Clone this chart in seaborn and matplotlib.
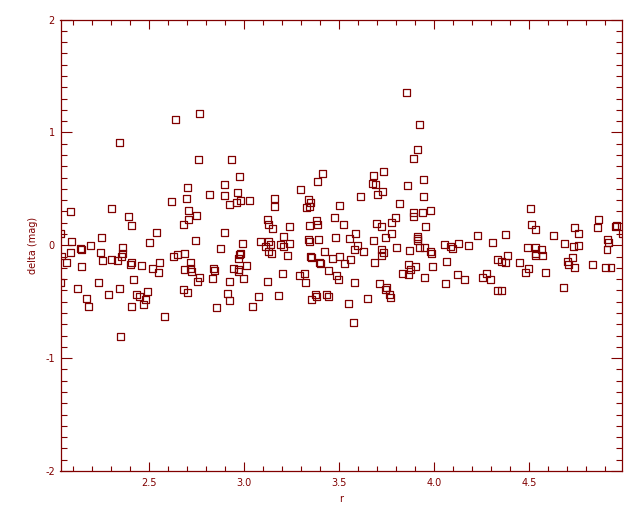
import matplotlib
matplotlib.use("Agg")
import matplotlib.pyplot as plt
import numpy as np
import pandas as pd
import seaborn as sns
from matplotlib.ticker import MultipleLocator, FormatStrFormatter

# ---- data (r, delta in mag) ----
r_top = [2.637, 2.764, 2.342, 2.759, 2.933, 3.925, 3.914, 3.893, 3.413, 3.682, 3.735, 3.856]
d_top = [1.115, 1.168, 0.912, 0.761, 0.761, 1.071, 0.850, 0.770, 0.637, 0.619, 0.655, 1.354]

r_a = [2.083, 2.299, 2.616, 2.389, 2.405, 2.032, 2.247, 2.537, 2.088, 2.500, 2.189, 2.136,
       2.141, 2.358, 2.083, 2.241, 2.358, 2.352, 2.039, 2.062, 2.252, 2.299, 2.331, 2.405,
       2.400, 2.458, 2.553, 2.141, 2.516, 2.547, 2.032, 2.231, 2.416, 2.120, 2.342, 2.284,
       2.431, 2.447, 2.489, 2.479, 2.168, 2.178, 2.405, 2.468, 2.579, 2.347]
d_a = [0.301, 0.327, 0.389, 0.257, 0.177, 0.106, 0.071, 0.115, 0.035, 0.027, 0.000, -0.030,
       -0.035, -0.018, -0.062, -0.062, -0.071, -0.097, -0.095, -0.150, -0.133, -0.124, -0.133, -0.150,
       -0.168, -0.177, -0.150, -0.186, -0.204, -0.239, -0.327, -0.327, -0.301, -0.381, -0.381, -0.434,
       -0.434, -0.451, -0.407, -0.478, -0.469, -0.540, -0.540, -0.522, -0.628, -0.805]

r_b = [2.975, 2.701, 2.896, 2.817, 2.896, 2.964, 2.695, 2.922, 2.959, 2.980, 3.028, 3.160,
       3.160, 2.706, 2.748, 2.706, 2.679, 3.123, 3.128, 3.149, 3.239, 2.896, 2.743, 2.875,
       2.991, 3.086, 3.128, 3.112, 3.139, 3.207, 3.191, 3.207, 3.239, 3.128, 3.144, 3.228,
       2.627, 2.648, 2.685, 2.980, 2.975, 2.970, 2.716, 2.685, 2.716, 2.722, 2.838, 2.843,
       2.943, 2.970, 2.970, 3.012, 2.764, 2.753, 2.832, 2.922, 2.996, 3.123, 3.202, 2.679,
       2.701, 2.912, 2.922, 3.075, 3.181, 2.854, 3.044]
d_b = [0.611, 0.513, 0.540, 0.451, 0.442, 0.469, 0.416, 0.363, 0.381, 0.398, 0.398, 0.416,
       0.345, 0.310, 0.265, 0.230, 0.186, 0.230, 0.186, 0.150, 0.168, 0.115, 0.044, -0.027,
       0.018, 0.035, 0.035, -0.009, 0.009, 0.080, 0.009, -0.009, 0.018, -0.053, -0.071, -0.088,
       -0.097, -0.080, -0.071, -0.071, -0.080, -0.115, -0.150, -0.212, -0.204, -0.230, -0.204, -0.221,
       -0.204, -0.212, -0.230, -0.177, -0.283, -0.319, -0.292, -0.319, -0.292, -0.319, -0.248, -0.389,
       -0.416, -0.425, -0.487, -0.451, -0.442, -0.549, -0.540]

r_c = [3.387, 3.297, 3.677, 3.693, 3.730, 3.703, 3.613, 3.339, 3.350, 3.344, 3.328, 3.503,
       3.819, 3.476, 3.798, 3.381, 3.387, 3.344, 3.524, 3.698, 3.724, 3.777, 3.339, 3.344,
       3.392, 3.482, 3.555, 3.587, 3.682, 3.745, 3.777, 3.582, 3.598, 3.629, 3.423, 3.724,
       3.735, 3.724, 3.803, 3.350, 3.355, 3.466, 3.503, 3.561, 3.529, 3.397, 3.402, 3.687,
       3.445, 3.292, 3.318, 3.323, 3.487, 3.497, 3.582, 3.835, 3.714, 3.751, 3.745, 3.767,
       3.772, 3.376, 3.381, 3.355, 3.434, 3.445, 3.550, 3.650, 3.577]
d_c = [0.566, 0.496, 0.549, 0.540, 0.478, 0.451, 0.434, 0.407, 0.381, 0.345, 0.336, 0.354,
       0.372, 0.248, 0.248, 0.221, 0.186, 0.177, 0.186, 0.195, 0.168, 0.204, 0.053, 0.035,
       0.053, 0.071, 0.062, 0.106, 0.044, 0.071, 0.106, -0.035, 0.000, -0.053, -0.053, -0.035,
       -0.062, -0.088, -0.018, -0.097, -0.106, -0.115, -0.097, -0.124, -0.159, -0.150, -0.159, -0.150,
       -0.221, -0.265, -0.248, -0.327, -0.265, -0.301, -0.327, -0.248, -0.336, -0.372, -0.389, -0.434,
       -0.460, -0.434, -0.451, -0.478, -0.434, -0.451, -0.513, -0.469, -0.681]

r_d = [3.946, 3.861, 3.946, 3.893, 3.893, 3.941, 3.983, 3.956, 3.914, 3.914, 3.914, 3.872,
       3.925, 3.951, 3.983, 3.988, 4.057, 4.088, 4.099, 4.131, 4.183, 4.231, 4.310, 4.379,
       4.067, 3.993, 3.867, 3.877, 3.904, 3.867, 3.951, 4.062, 4.125, 4.162, 4.257, 4.278,
       4.299, 4.336, 4.358, 4.379, 4.389, 4.336, 4.358]
d_d = [0.584, 0.531, 0.434, 0.292, 0.257, 0.292, 0.310, 0.168, 0.080, 0.062, 0.044, -0.044,
       -0.018, -0.018, -0.053, -0.071, 0.009, -0.009, -0.027, 0.018, 0.000, 0.088, 0.027, 0.097,
       -0.142, -0.186, -0.168, -0.212, -0.186, -0.257, -0.283, -0.336, -0.257, -0.301, -0.283, -0.248,
       -0.301, -0.124, -0.142, -0.150, -0.088, -0.398, -0.398]

r_e = [4.511, 4.516, 4.537, 4.632, 4.743, 4.764, 4.869, 4.864, 4.954, 4.964, 4.991, 4.917,
       4.922, 4.912, 4.495, 4.537, 4.569, 4.537, 4.537, 4.574, 4.690, 4.737, 4.764, 4.732,
       4.706, 4.711, 4.743, 4.452, 4.500, 4.484, 4.590, 4.838, 4.906, 4.933, 4.685]
d_e = [0.327, 0.186, 0.142, 0.088, 0.159, 0.106, 0.230, 0.159, 0.168, 0.177, 0.106, 0.053,
       0.027, -0.035, -0.018, -0.018, -0.035, -0.071, -0.088, -0.088, 0.018, -0.009, 0.000, -0.106,
       -0.142, -0.168, -0.195, -0.150, -0.204, -0.239, -0.239, -0.168, -0.195, -0.195, -0.372]

x_ticks = [2.5, 3.0, 3.5, 4.0, 4.5]
y_ticks = [-2, -1, 0, 1, 2]
x_label = "r"
y_label = "delta (mag)"

DARK = "#800000"

r_all = r_top + r_a + r_b + r_c + r_d + r_e
d_all = d_top + d_a + d_b + d_c + d_d + d_e
assert len(r_all) == len(d_all)
df = pd.DataFrame({"r": r_all, "delta": d_all})

sns.set_style("white")
plt.rcParams["font.family"] = ["DejaVu Sans"]
plt.rcParams["axes.unicode_minus"] = False

fig = plt.figure(figsize=(6.4, 5.12), dpi=100)
ax = fig.add_axes([60.5 / 640, 1 - 471 / 512, (622 - 60.5) / 640, (471 - 19.5) / 512])

sns.scatterplot(data=df, x="r", y="delta", marker="s", s=25, color=DARK,
                linewidth=0.9, ax=ax, legend=False)
for coll in ax.collections:
    coll.set_facecolor("none")
    coll.set_edgecolor(DARK)
    coll.set_linewidth(0.9)

ax.set_xlim(min(r_all), max(r_all))
ax.set_ylim(-2, 2)
ax.set_xticks(x_ticks)
ax.set_yticks(y_ticks)
ax.xaxis.set_major_formatter(FormatStrFormatter("%.1f"))
ax.yaxis.set_major_formatter(FormatStrFormatter("%d"))
ax.xaxis.set_minor_locator(MultipleLocator(0.1))
ax.yaxis.set_minor_locator(MultipleLocator(0.1))

for sp in ax.spines.values():
    sp.set_visible(True)
    sp.set_color(DARK)
    sp.set_linewidth(0.9)

ax.tick_params(axis="x", which="major", direction="in", length=6.5, width=0.8,
               top=True, bottom=True, color=DARK, labelcolor=DARK, labelsize=7, pad=5)
ax.tick_params(axis="x", which="minor", direction="in", length=3.3, width=0.8,
               top=True, bottom=True, color=DARK)
ax.tick_params(axis="y", which="major", direction="in", length=8.2, width=0.8,
               left=True, right=True, color=DARK, labelcolor=DARK, labelsize=7, pad=4)
ax.tick_params(axis="y", which="minor", direction="in", length=4.0, width=0.8,
               left=True, right=True, color=DARK)

ax.set_xlabel(x_label, color=DARK, fontsize=7, labelpad=4)
ax.set_ylabel(y_label, color=DARK, fontsize=7, labelpad=5)

fig.savefig("out.png", dpi=100, facecolor="white")
